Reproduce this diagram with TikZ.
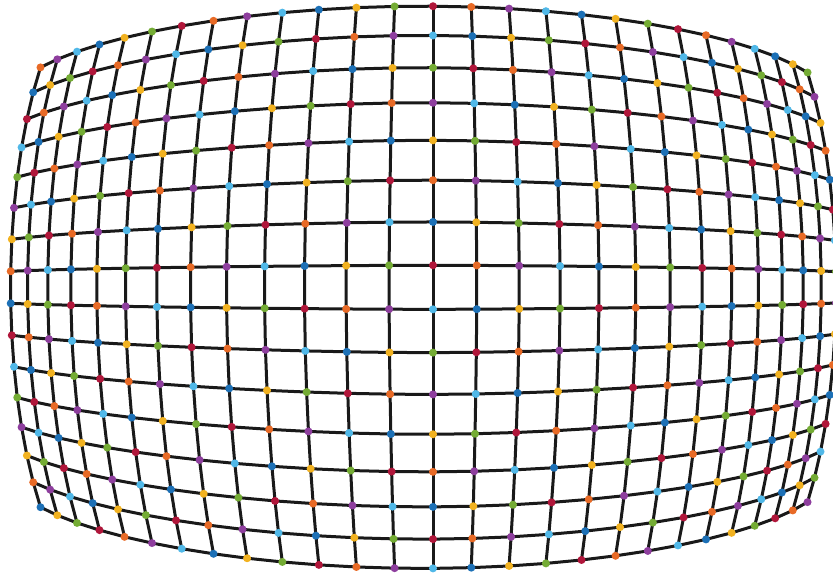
\documentclass[tikz,border=0pt]{standalone}
\definecolor{c0}{RGB}{232,106,38}
\definecolor{c1}{RGB}{142,62,158}
\definecolor{c2}{RGB}{80,184,232}
\definecolor{c3}{RGB}{28,112,182}
\definecolor{c4}{RGB}{242,178,32}
\definecolor{c5}{RGB}{116,172,52}
\definecolor{c6}{RGB}{176,22,58}
\tikzset{
  gridline/.style={line width=3pt, draw=black!90, line join=round, line cap=round},
  gdot/.style={circle, inner sep=0pt, minimum size=8pt, draw=none}
}
\begin{document}
\begin{tikzpicture}[x=1pt,y=1pt]
\useasboundingbox (0,0) rectangle (833,576);
\clip (0,0) rectangle (833,576);
\foreach \i in {0,...,15}{
  \foreach \j in {0,...,26}{
    \pgfmathsetmacro\xn{\j-13}
    \pgfmathsetmacro\yn{7.5-\i}
    \pgfmathsetmacro\rr{sqrt(\xn*\xn+\yn*\yn)}
    \pgfmathsetmacro\gX{1-0.00776*exp(1.4*ln(\rr))}
    \pgfmathsetmacro\hX{1-0.025*(\yn*\yn/56.25)*(1-\xn*\xn/169)}
    \pgfmathsetmacro\kX{1+0.018*(\yn*\yn/56.25)*(\xn*\xn/169)}
    \pgfmathsetmacro\XX{433+44.2*\xn*\gX*\kX*(1-0.0018*\xn)}
    \pgfmathsetmacro\YY{288.7+44.2*\yn*\gX*\hX*(1-0.0009*\xn)}
    \coordinate (p-\i-\j) at (\XX,\YY);
  }
}
\foreach \i in {0,...,15}{
  \draw[gridline] (p-\i-0) \foreach \j in {1,...,26}{ -- (p-\i-\j)};
}
\foreach \j in {0,...,26}{
  \draw[gridline] (p-0-\j) \foreach \i in {1,...,15}{ -- (p-\i-\j)};
}
\foreach \i in {0,...,15}{
  \foreach \j in {0,...,26}{
    \pgfmathtruncatemacro\ci{mod(\j+3*\i,7)}
    \node[gdot, fill=c\ci] (d-\i-\j) at (p-\i-\j) {};
  }
}
\end{tikzpicture}
\end{document}
